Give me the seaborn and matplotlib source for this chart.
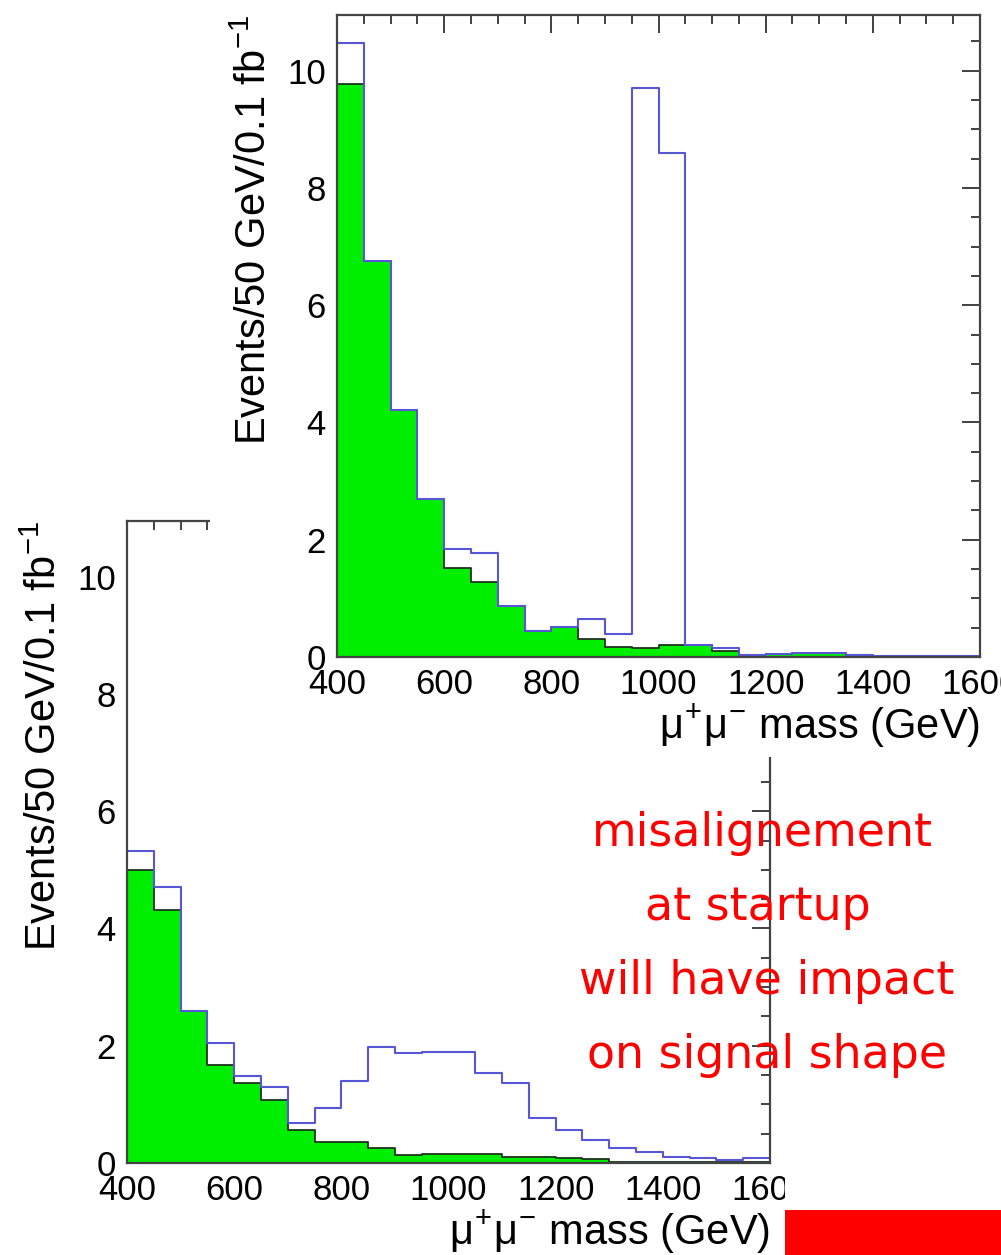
import numpy as np
import pandas as pd
import matplotlib
matplotlib.use("Agg")
import matplotlib.pyplot as plt
import seaborn as sns
from matplotlib.patches import Rectangle
from matplotlib.ticker import MultipleLocator

# ---------------- data ----------------
bin_lo = [400, 450, 500, 550, 600, 650, 700, 750, 800, 850, 900, 950,
          1000, 1050, 1100, 1150, 1200, 1250, 1300, 1350, 1400, 1450, 1500, 1550]
bin_width = 50

# top panel (ideal alignment)
top_total = [10.47, 6.76, 4.22, 2.70, 1.85, 1.77, 0.87, 0.45, 0.52, 0.64, 0.40, 9.71,
             8.60, 0.20, 0.15, 0.04, 0.05, 0.07, 0.06, 0.04, 0.02, 0.02, 0.02, 0.02]
top_bkg = [9.77, 6.76, 4.22, 2.70, 1.51, 1.28, 0.87, 0.45, 0.52, 0.31, 0.17, 0.15,
           0.20, 0.20, 0.11, 0.04, 0.05, 0.07, 0.06, 0.02, 0.01, 0.01, 0.01, 0.01]

# bottom panel (misaligned at startup)
bot_total = [5.33, 4.71, 2.59, 2.04, 1.49, 1.29, 0.69, 0.93, 1.40, 1.98, 1.88, 1.90,
             1.90, 1.54, 1.37, 0.76, 0.56, 0.39, 0.25, 0.18, 0.11, 0.08, 0.05, 0.08]
bot_bkg = [4.99, 4.32, 2.59, 1.67, 1.37, 1.07, 0.57, 0.36, 0.35, 0.25, 0.14, 0.15,
           0.15, 0.16, 0.11, 0.10, 0.08, 0.07, 0.01, 0.01, 0.01, 0.01, 0.01, 0.01]

xlabel_txt = r"$\mu^{+}\mu^{-}$ mass (GeV)"
ylabel_txt = r"Events/50 GeV/0.1 fb$^{-1}$"
note_lines = ["misalignement", "at startup", "will have impact", "on signal shape"]

# ---------------- style ----------------
sns.set_style("white")
plt.rcParams['font.family'] = ['Liberation Sans', 'DejaVu Sans']
plt.rcParams['mathtext.fontset'] = 'custom'
plt.rcParams['mathtext.rm'] = 'Liberation Sans'
plt.rcParams['mathtext.it'] = 'Liberation Sans'
plt.rcParams['mathtext.bf'] = 'Liberation Sans:bold'
plt.rcParams['text.color'] = 'black'
plt.rcParams['axes.labelcolor'] = 'black'
plt.rcParams['xtick.labelcolor'] = 'black'
plt.rcParams['ytick.labelcolor'] = 'black'

BLUE = "#5757d6"
GREEN = "#00ee00"
DARK = "#1c331c"

W, H = 1001, 1255
fig = plt.figure(figsize=(W / 100, H / 100), dpi=100)
fig.patch.set_facecolor("white")


def rect(l, t, w, h):
    return [l / W, 1 - (t + h) / H, w / W, h / H]


edges = bin_lo + [bin_lo[-1] + bin_width]
centers = [b + bin_width / 2 for b in bin_lo]


def draw_panel(ax, total, bkg):
    df = pd.DataFrame({"mass": centers, "total": total, "bkg": bkg})
    sns.histplot(data=df, x="mass", weights="total", bins=edges, element="step",
                 fill=False, color=BLUE, linewidth=1.5, ax=ax)
    sns.histplot(data=df, x="mass", weights="bkg", bins=edges, element="step",
                 fill=True, facecolor=GREEN, edgecolor=DARK, alpha=1, linewidth=1.3, ax=ax)
    ax.set_xlim(400, 1600)
    ax.set_ylim(0, 10.95)
    ax.xaxis.set_major_locator(MultipleLocator(200))
    ax.xaxis.set_minor_locator(MultipleLocator(50))
    ax.yaxis.set_major_locator(MultipleLocator(2))
    ax.yaxis.set_minor_locator(MultipleLocator(0.5))
    ax.tick_params(which='both', direction='in', top=True, right=True,
                   color='#333333', width=1.3)
    ax.tick_params(which='major', length=13, labelsize=25)
    ax.tick_params(which='minor', length=6.5)
    ax.tick_params(axis='x', pad=8)
    ax.tick_params(axis='y', pad=8)
    for s in ax.spines.values():
        s.set_linewidth(1.6)
        s.set_color('#444444')
    ax.set_xlabel(xlabel_txt, loc='right', fontsize=30, labelpad=1)
    ax.set_ylabel(ylabel_txt, loc='top', fontsize=30, labelpad=9)
    ax.set_facecolor("white")


ax_bot = fig.add_axes(rect(127, 521, 643, 642))
ax_bot.set_zorder(0)
draw_panel(ax_bot, bot_total, bot_bkg)

# the top picture is pasted over the lower one
fig.add_artist(Rectangle((210 / W, 1 - 757 / H), (W - 210) / W, 757 / H,
                         transform=fig.transFigure, facecolor='white',
                         edgecolor='none', zorder=1))

ax_top = fig.add_axes(rect(337, 15, 643, 642))
ax_top.set_zorder(2)
draw_panel(ax_top, top_total, top_bkg)

# lower picture is cropped on the right
fig.add_artist(Rectangle((785 / W, 0), (W - 785) / W, 1 - 757 / H,
                         transform=fig.transFigure, facecolor='white',
                         edgecolor='none', zorder=3))

note_pos = [(762, 833), (758, 908), (767, 982), (767, 1055)]
for txt, (px, py) in zip(note_lines, note_pos):
    fig.text(px / W, 1 - py / H, txt, ha='center', va='center', color='red',
             fontsize=33, family=['DejaVu Sans'], zorder=5)

fig.add_artist(Rectangle((785 / W, 0), (W - 785) / W, 45 / H,
                         transform=fig.transFigure, facecolor='red',
                         edgecolor='none', zorder=5))

fig.savefig("out.png", dpi=100)
